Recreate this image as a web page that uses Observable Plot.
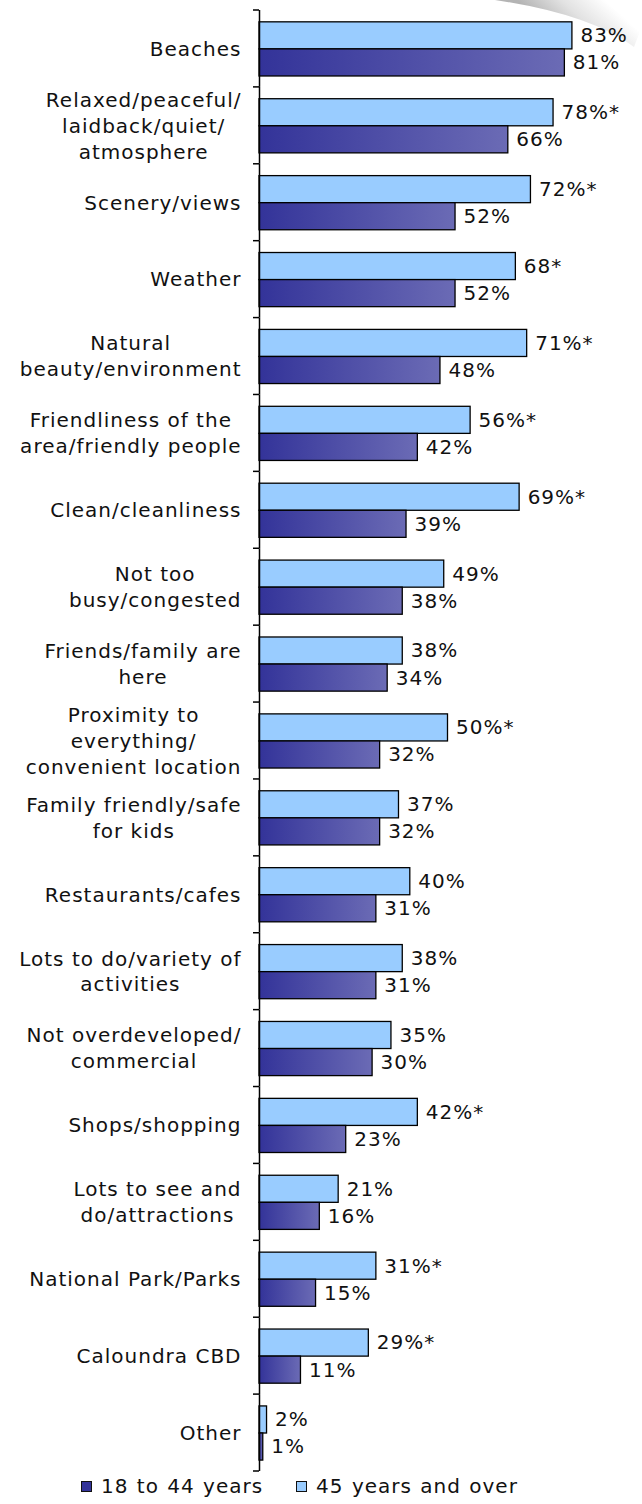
<!DOCTYPE html>
<html><head><meta charset="utf-8">
<script src="https://cdn.jsdelivr.net/npm/d3@7"></script>
<script src="https://cdn.jsdelivr.net/npm/@observablehq/plot@0.6"></script>
<style>
body{margin:0;background:#fff;font-family:"DejaVu Sans",Verdana,sans-serif;}
#wrap{position:relative;width:642px;height:1504px;overflow:hidden;}
#curl{position:absolute;left:0;top:0;}
#chart{position:absolute;left:0;top:0;}
#legend{position:absolute;left:81px;top:1470px;height:32px;display:flex;align-items:center;font-size:20px;letter-spacing:1px;word-spacing:1px;color:#111;white-space:nowrap;}
.item{display:flex;align-items:center;margin-right:33px;}
.sw{display:inline-block;width:9px;height:9px;border:1.5px solid #111;margin-right:9px;}
</style></head><body>
<div id="wrap">
<svg id="curl" width="642" height="60">
  <defs><linearGradient id="curlGrad" x1="565" y1="44" x2="605" y2="0" gradientUnits="userSpaceOnUse">
    <stop offset="0" stop-color="#b4b4b4"/><stop offset="0.5" stop-color="#e2e2e2"/><stop offset="1" stop-color="#ffffff"/></linearGradient></defs>
  <path d="M495,0 Q590,14 634,47 L642,26 L642,0 Z" fill="url(#curlGrad)"/>
</svg>
<div id="chart"></div>
<div id="legend"></div>
</div>
<script>
const categories = [
  "Beaches",
  "Relaxed/peaceful/\nlaidback/quiet/\natmosphere",
  "Scenery/views",
  "Weather",
  "Natural\nbeauty/environment",
  "Friendliness of the\narea/friendly people",
  "Clean/cleanliness",
  "Not too\nbusy/congested",
  "Friends/family are\nhere",
  "Proximity to\neverything/\nconvenient location",
  "Family friendly/safe\nfor kids",
  "Restaurants/cafes",
  "Lots to do/variety of\nactivities",
  "Not overdeveloped/\ncommercial",
  "Shops/shopping",
  "Lots to see and\ndo/attractions",
  "National Park/Parks",
  "Caloundra CBD",
  "Other"
];
const seriesNames = ["45 years and over", "18 to 44 years"];
const olderValues = [83, 78, 72, 68, 71, 56, 69, 49, 38, 50, 37, 40, 38, 35, 42, 21, 31, 29, 2];
const olderLabels = ["83%", "78%*", "72%*", "68*", "71%*", "56%*", "69%*", "49%", "38%", "50%*", "37%", "40%", "38%", "35%", "42%*", "21%", "31%*", "29%*", "2%"];
const youngerValues = [81, 66, 52, 52, 48, 42, 39, 38, 34, 32, 32, 31, 31, 30, 23, 16, 15, 11, 1];
const youngerLabels = ["81%", "66%", "52%", "52%", "48%", "42%", "39%", "38%", "34%", "32%", "32%", "31%", "31%", "30%", "23%", "16%", "15%", "11%", "1%"];
const seriesColors = ["#99ccff", "#333399"];

const rows = categories.flatMap((c, i) => [
  {category: c, series: seriesNames[0], value: olderValues[i], label: olderLabels[i]},
  {category: c, series: seriesNames[1], value: youngerValues[i], label: youngerLabels[i]}
]);

const W = 642, H = 1472, mL = 259, mR = 6, mT = 10, mB = 1;
const FONT = 20, LS = 1;
const pxPerUnit = (W - mL - mR) / 100;
const ctx = document.createElement("canvas").getContext("2d");
ctx.font = `${FONT}px "DejaVu Sans"`;
const blockWidth = s => d3.max(s.split("\n"), l => ctx.measureText(l).width + l.length * LS);
const labelPad = 18;

const chart = Plot.plot({
  width: W, height: H, marginTop: mT, marginBottom: mB, marginLeft: mL, marginRight: mR,
  style: {fontFamily: '"DejaVu Sans", Verdana, sans-serif', fontSize: FONT + "px", letterSpacing: LS + "px", color: "#111", background: "transparent", overflow: "visible"},
  facet: {marginTop: 0, marginBottom: 0, marginLeft: 0, marginRight: 0},
  x: {domain: [0, 100], axis: null},
  y: {domain: seriesNames, axis: null, paddingInner: 0, paddingOuter: 0.42, align: 0.52, round: false},
  fy: {domain: categories, axis: null, padding: 0, round: false, range: [mT, H - mB]},
  marks: [
    Plot.barX(rows.filter(d => d.series === seriesNames[0]), {fy: "category", y: "series", x: "value", fill: seriesColors[0], stroke: "#000", strokeWidth: 1.3}),
    Plot.barX(rows.filter(d => d.series === seriesNames[1]), {fy: "category", y: "series", x: "value", fill: "url(#darkGrad)", stroke: "#000", strokeWidth: 1.3}),
    Plot.text(rows, {fy: "category", y: "series", x: "value", text: "label", dx: 8, textAnchor: "start", fontSize: FONT, fill: "#111"}),
    Plot.text(categories, {fy: d => d, text: d => d, x: d => -(labelPad + blockWidth(d) / 2) / pxPerUnit, dy: -1.5, textAnchor: "middle", lineHeight: 1.3, fontSize: FONT, fill: "#111"}),
    Plot.ruleX([0], {stroke: "#000", strokeWidth: 1.5})
  ]
});

const svg = d3.select(chart);
svg.append("defs").html(`<linearGradient id="darkGrad" x1="0" y1="0" x2="1" y2="0">
  <stop offset="0" stop-color="#333399"/><stop offset="1" stop-color="#6b6bb5"/></linearGradient>`);
const fy = chart.scale("fy");
const bounds = categories.map(c => fy.apply(c));
bounds.push(fy.apply(categories[categories.length - 1]) + fy.bandwidth);
svg.append("g").selectAll("line").data(bounds).join("line")
  .attr("x1", mL - 6).attr("x2", mL).attr("y1", d => d).attr("y2", d => d)
  .attr("stroke", "#000").attr("stroke-width", 1.5);

document.getElementById("chart").appendChild(chart);

const legendOrder = [1, 0];
const legend = d3.select("#legend");
legendOrder.forEach(i => {
  const it = legend.append("div").attr("class", "item");
  it.append("span").attr("class", "sw").style("background", seriesColors[i]);
  it.append("span").text(seriesNames[i]);
});
</script>
</body></html>
